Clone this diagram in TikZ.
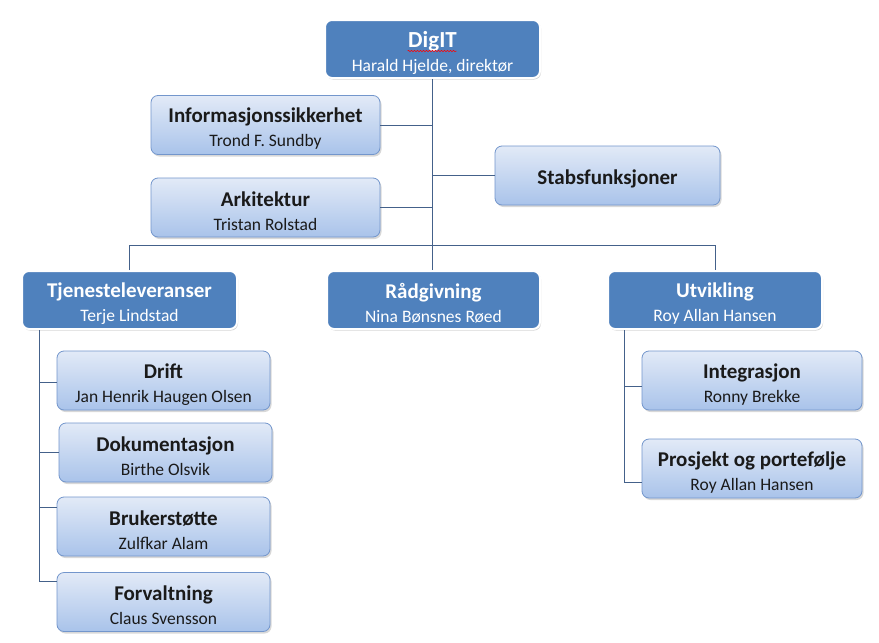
\documentclass[tikz,border=0pt]{standalone}
\usepackage{fontspec}
\setmainfont{Carlito}
\usetikzlibrary{calc, shadows, decorations.pathmorphing}

\definecolor{unitblue}{HTML}{4F81BD}
\definecolor{unitedge}{HTML}{7396CC}
\definecolor{unittop}{HTML}{E2EAF7}
\definecolor{unitbottom}{HTML}{A9C3EA}
\definecolor{linkblue}{HTML}{44618A}
\definecolor{nametext}{HTML}{1A1A1A}

\newcommand{\unittitle}[1]{{\fontsize{21}{24}\selectfont\bfseries\rule{0pt}{22pt}#1}}

\begin{document}
\begin{tikzpicture}[x=1pt, y=-1pt,
    head/.style={rectangle, rounded corners=7pt, fill=unitblue, draw=white, line width=2pt,
        text=white, align=center, minimum width=215pt, minimum height=58pt,
        font=\fontsize{17.5}{24}\selectfont,
        drop shadow={opacity=0.35, shadow xshift=1pt, shadow yshift=-1.5pt}},
    unit/.style={rectangle, rounded corners=7pt, top color=unittop, bottom color=unitbottom,
        draw=unitedge, line width=0.8pt, text=nametext, align=center,
        minimum width=213pt, minimum height=59pt,
        font=\fontsize{17.5}{24}\selectfont,
        drop shadow={opacity=0.3, shadow xshift=1.5pt, shadow yshift=-2pt}},
    link/.style={draw=linkblue, line width=0.8pt}]
    \fill[white] (0,0) rectangle (879,643);
    \useasboundingbox (0,0) rectangle (879,643);

    % Top unit
    \node[head] (digit) at (432.5,49) {{\fontsize{23}{24}\selectfont\bfseries\rule{0pt}{23pt}DigIT}\\Harald Hjelde, direktør};
    \draw[red, line width=0.5pt, decorate, decoration={snake, amplitude=0.7pt, segment length=3pt}]
        ($(digit.center)+(-25,2)$) -- ++(49,0);

    % Staff units
    \node[unit, minimum width=229pt] (info) at (265.5,125) {\unittitle{Informasjonssikkerhet}\\Trond F. Sundby};
    \node[unit, minimum width=229pt] (arki) at (265.5,207.5) {\unittitle{Arkitektur}\\Tristan Rolstad};
    \node[unit, minimum width=225pt] (stabs) at (607.5,175.5) {\unittitle{Stabsfunksjoner}};

    % Departments
    \node[head] (tjen) at (129.5,300) {\unittitle{Tjenesteleveranser}\\Terje Lindstad};
    \node[head, minimum width=213pt] (radg) at (433.5,300) {\unittitle{Rådgivning}\\Nina Bønsnes Røed};
    \node[head, minimum width=214pt] (utv) at (715,300) {\unittitle{Utvikling}\\Roy Allan Hansen};

    % Sections
    \foreach \nm/\x/\y/\ttl/\who in {drift/163.5/380.5/Drift/{Jan Henrik Haugen Olsen},
        dok/165.5/452.5/Dokumentasjon/{Birthe Olsvik},
        bruk/163.5/526.5/Brukerstøtte/{Zulfkar Alam},
        forv/163.5/602/Forvaltning/{Claus Svensson}}
        \node[unit] (\nm) at (\x,\y) {\unittitle{\ttl}\\\who};
    \foreach \nm/\y/\ttl/\who in {integ/380.5/Integrasjon/{Ronny Brekke},
        prosj/468.5/{Prosjekt og portefølje}/{Roy Allan Hansen}}
        \node[unit, minimum width=220pt] (\nm) at (752,\y) {\unittitle{\ttl}\\\who};

    % Connectors
    \draw[link] (digit.south) -- (digit.south |- radg.north);
    \draw[link] (info.east) -- (info.east -| digit.south);
    \draw[link] (arki.east) -- (arki.east -| digit.south);
    \draw[link] (stabs.west) -- (stabs.west -| digit.south);
    \draw[link] (tjen.north) -- ++(0,-25) -| (utv.north);

    \coordinate (tjenleg) at ($(tjen.south west)+(18,0)$);
    \coordinate (driftin) at ($(drift.west)+(0,1.5)$);
    \coordinate (brukin) at ($(bruk.west)+(0,-19.5)$);
    \coordinate (forvin) at ($(forv.west)+(0,-21)$);
    \draw[link] (tjenleg) |- (forvin);
    \foreach \tip in {driftin, dok.west, brukin}
        \draw[link] (\tip) -- (\tip -| tjenleg);

    \coordinate (utvleg) at ($(utv.south west)+(17,0)$);
    \coordinate (integin) at ($(integ.west)+(0,5.5)$);
    \coordinate (prosjin) at ($(prosj.west)+(0,13.5)$);
    \draw[link] (utvleg) |- (prosjin);
    \draw[link] (integin) -- (integin -| utvleg);
\end{tikzpicture}
\end{document}
